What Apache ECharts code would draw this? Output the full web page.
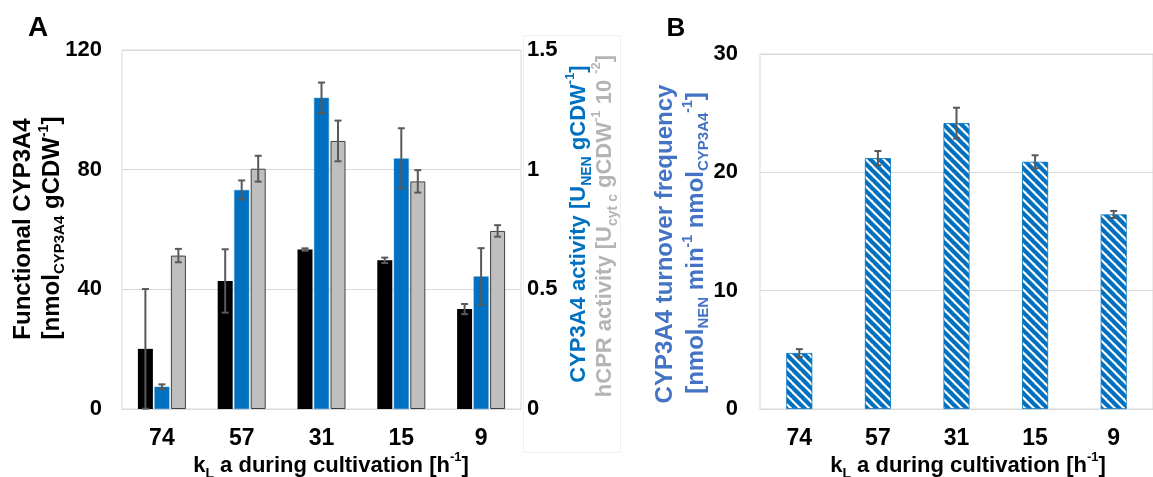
<!DOCTYPE html>
<html>
<head>
<meta charset="utf-8">
<script src="https://cdn.jsdelivr.net/npm/echarts@6/dist/echarts.min.js"></script>
<style>
html,body{margin:0;padding:0;background:#fff;}
#c{width:1153px;height:477px;}
</style>
</head>
<body>
<div id="c"></div>
<script>
// ---- data ----
var categories = ['74', '57', '31', '15', '9'];
var functionalCYP = [20.1, 42.8, 53.3, 49.7, 33.4];
var functionalErr = [20.0, 10.6, 0.4, 0.9, 1.7];
var cypActivity = [0.093, 0.915, 1.30, 1.047, 0.554];
var cypActivityErr = [0.010, 0.040, 0.064, 0.126, 0.118];
var hcprActivity = [0.641, 1.004, 1.120, 0.951, 0.744];
var hcprActivityErr = [0.028, 0.054, 0.085, 0.047, 0.024];
var turnover = [4.73, 21.2, 24.16, 20.89, 16.44];
var turnoverErr = [0.33, 0.6, 1.3, 0.55, 0.3];
var leftTicks = [0, 40, 80, 120];
var rightTicks = [0, 0.5, 1, 1.5];
var bTicks = [0, 10, 20, 30];

// ---- styles ----
var FONT = 'Liberation Sans, Arial, sans-serif';
var BLUE = '#0070c0';
var GRAY = '#bfbfbf';
var ERR = '#595959';
var GRID_LINE = '#d9d9d9';

// stripe pattern
var pc = document.createElement('canvas');
pc.width = 9; pc.height = 9;
var pctx = pc.getContext('2d');
pctx.fillStyle = '#ffffff';
pctx.fillRect(0, 0, 9, 9);
pctx.strokeStyle = BLUE;
pctx.lineWidth = 4.2;
[-9, 0, 9].forEach(function (c) {
  pctx.beginPath();
  pctx.moveTo(-1, c - 1);
  pctx.lineTo(10, c + 10);
  pctx.stroke();
});

function errSeries(values, errs, xAxisIndex, yAxisIndex, offset) {
  var d = values.map(function (v, i) { return [i, v - errs[i], v + errs[i]]; });
  return {
    type: 'custom',
    xAxisIndex: xAxisIndex,
    yAxisIndex: yAxisIndex,
    z: 10,
    silent: true,
    data: d,
    renderItem: function (params, api) {
      var lo = api.coord([api.value(0), api.value(1)]);
      var hi = api.coord([api.value(0), api.value(2)]);
      var x = lo[0] + offset;
      var cw = 3.5;
      var st = { stroke: ERR, lineWidth: 2 };
      return {
        type: 'group',
        children: [
          { type: 'line', shape: { x1: x, y1: lo[1], x2: x, y2: hi[1] }, style: st },
          { type: 'line', shape: { x1: x - cw, y1: lo[1], x2: x + cw, y2: lo[1] }, style: st },
          { type: 'line', shape: { x1: x - cw, y1: hi[1], x2: x + cw, y2: hi[1] }, style: st }
        ]
      };
    }
  };
}

var tickLabel = { fontFamily: FONT, fontWeight: 'bold', fontSize: 22, color: '#000' };
function richFor(color, size) {
  return {
    t: { fontSize: size, fontWeight: 'bold', fontFamily: FONT, color: color, lineHeight: 30, verticalAlign: 'middle' },
    sub: { fontSize: Math.round(size * 0.62), fontWeight: 'bold', fontFamily: FONT, color: color, verticalAlign: 'bottom', lineHeight: 30 },
    sup: { fontSize: Math.round(size * 0.58), fontWeight: 'bold', fontFamily: FONT, color: color, verticalAlign: 'top', lineHeight: 30 }
  };
}
function rotText(x, y, text, color, size) {
  return {
    type: 'text', x: x, y: y, rotation: Math.PI / 2, z: 100,
    style: {
      text: text, rich: richFor(color, size),
      fontFamily: FONT, fontWeight: 'bold', fontSize: size, fill: color,
      align: 'center', verticalAlign: 'middle'
    }
  };
}
function flatText(x, y, text, color, size) {
  return {
    type: 'text', x: x, y: y, z: 100,
    style: {
      text: text, rich: richFor(color, size),
      fontFamily: FONT, fontWeight: 'bold', fontSize: size, fill: color,
      align: 'center', verticalAlign: 'middle'
    }
  };
}

var chart = echarts.init(document.getElementById('c'), null, { renderer: 'canvas' });
var option = {
  animation: false,
  backgroundColor: '#fff',
  grid: [
    { left: 122, top: 50, right: 1153 - 521, bottom: 68, show: true, borderColor: GRID_LINE, borderWidth: 1, containLabel: false },
    { left: 760, top: 54, right: -7, bottom: 68, show: true, borderColor: GRID_LINE, borderWidth: 1, containLabel: false }
  ],
  xAxis: [
    { type: 'category', gridIndex: 0, data: categories,
      axisTick: { show: false }, axisLine: { lineStyle: { color: GRID_LINE } },
      axisLabel: Object.assign({ margin: 18 }, tickLabel, { fontSize: 23 }) },
    { type: 'category', gridIndex: 1, data: categories,
      axisTick: { show: false }, axisLine: { lineStyle: { color: GRID_LINE } },
      axisLabel: Object.assign({ margin: 18 }, tickLabel, { fontSize: 23 }) }
  ],
  yAxis: [
    { type: 'value', gridIndex: 0, min: leftTicks[0], max: leftTicks[leftTicks.length - 1], interval: leftTicks[1] - leftTicks[0],
      axisLine: { show: false }, axisTick: { show: false },
      splitLine: { lineStyle: { color: GRID_LINE } },
      axisLabel: Object.assign({ margin: 20 }, tickLabel) },
    { type: 'value', gridIndex: 0, position: 'right', min: rightTicks[0], max: rightTicks[rightTicks.length - 1], interval: rightTicks[1] - rightTicks[0],
      axisLine: { show: false }, axisTick: { show: false }, splitLine: { show: false },
      axisLabel: Object.assign({ margin: 6 }, tickLabel) },
    { type: 'value', gridIndex: 1, min: bTicks[0], max: bTicks[bTicks.length - 1], interval: bTicks[1] - bTicks[0],
      axisLine: { show: false }, axisTick: { show: false },
      splitLine: { lineStyle: { color: GRID_LINE } },
      axisLabel: Object.assign({ margin: 22 }, tickLabel) }
  ],
  series: [
    { type: 'bar', xAxisIndex: 0, yAxisIndex: 0, data: functionalCYP, barWidth: 15, barGap: '10%',
      itemStyle: { color: '#000' } },
    { type: 'bar', xAxisIndex: 0, yAxisIndex: 1, data: cypActivity, barWidth: 15, barGap: '10%',
      itemStyle: { color: BLUE, borderColor: '#2a86d0', borderWidth: 0.5 } },
    { type: 'bar', xAxisIndex: 0, yAxisIndex: 1, data: hcprActivity, barWidth: 15, barGap: '10%',
      itemStyle: { color: GRAY, borderColor: '#404040', borderWidth: 1 } },
    errSeries(functionalCYP, functionalErr, 0, 0, -16.5),
    errSeries(cypActivity, cypActivityErr, 0, 1, 0),
    errSeries(hcprActivity, hcprActivityErr, 0, 1, 16.5),
    { type: 'bar', xAxisIndex: 1, yAxisIndex: 2, data: turnover, barWidth: 26,
      itemStyle: { color: { image: pc, repeat: 'repeat' }, borderColor: BLUE, borderWidth: 0.8 } },
    errSeries(turnover, turnoverErr, 1, 2, 0)
  ],
  graphic: [
    { type: 'rect', shape: { x: 523.5, y: 35.5, width: 97, height: 417 }, style: { fill: 'none', stroke: '#efefef', lineWidth: 1 }, z: 0 },
    { type: 'text', x: 38, y: 28, z: 100, style: { text: 'A', fontFamily: FONT, fontWeight: 'bold', fontSize: 28, fill: '#000', align: 'center', verticalAlign: 'middle' } },
    { type: 'text', x: 676, y: 29, z: 100, style: { text: 'B', fontFamily: FONT, fontWeight: 'bold', fontSize: 26, fill: '#000', align: 'center', verticalAlign: 'middle' } },
    rotText(23, 229, '{t|Functional CYP3A4}', '#000', 24),
    rotText(52, 228, '{t|[nmol}{sub|CYP3A4}{t| gCDW}{sup|-1}{t|]}', '#000', 24),
    rotText(579, 224, '{t|CYP3A4 activity [U}{sub|NEN}{t| gCDW}{sup|-1}{t|]}', BLUE, 22),
    rotText(605, 226, '{t|hCPR activity [U}{sub|cyt c}{t| gCDW}{sup|-1}{t| 10 }{sup|-2}{t|]}', '#b4b4b4', 22),
    rotText(665, 244, '{t|CYP3A4 turnover frequency}', '#4472c4', 24),
    rotText(696, 243, '{t|[nmol}{sub|NEN}{t| min}{sup|-1}{t| nmol}{sub|CYP3A4}{sup|-1}{t|]}', '#4472c4', 24),
    flatText(331, 466, '{t|k}{sub|L}{t| a during cultivation [h}{sup|-1}{t|]}', '#000', 22),
    flatText(968, 466, '{t|k}{sub|L}{t| a during cultivation [h}{sup|-1}{t|]}', '#000', 22)
  ]
};
chart.setOption(option);
</script>
</body>
</html>
